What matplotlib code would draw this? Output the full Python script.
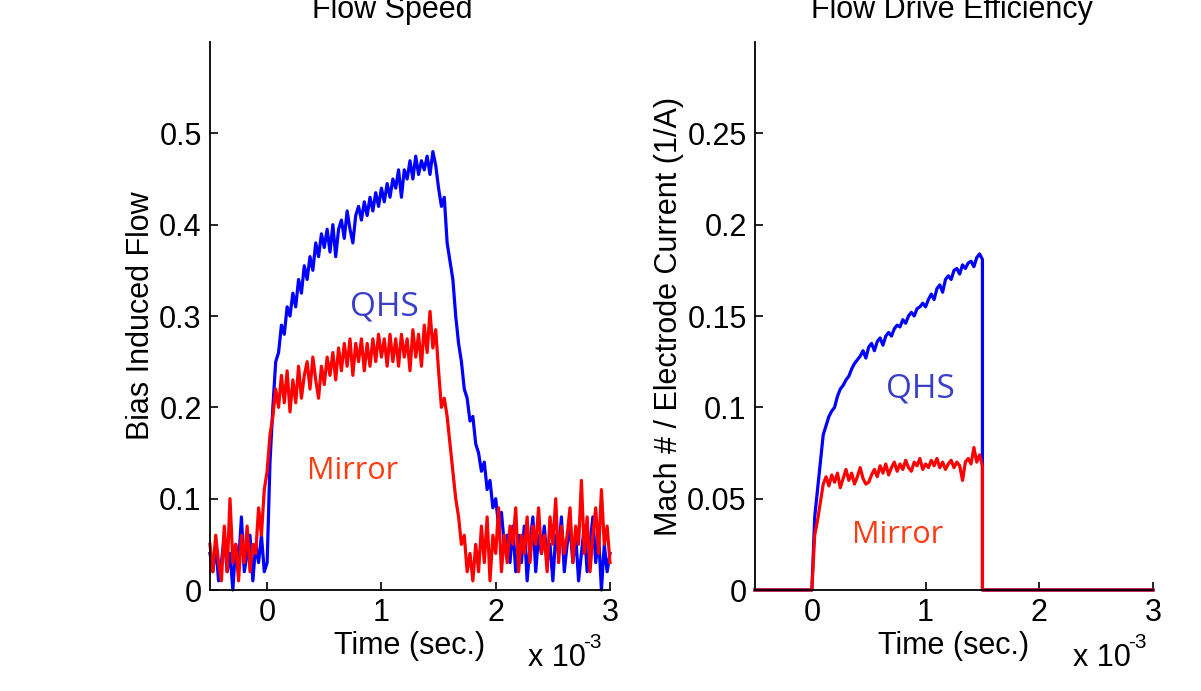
import numpy as np
import matplotlib
matplotlib.use('Agg')
from matplotlib import pyplot as plt
from matplotlib.ticker import FuncFormatter

# time in units of 1e-3 sec
tLeft = np.arange(141) * 0.025 - 0.5
tRight = np.arange(61) * 0.025

# left panel: bias induced flow
qhsFlow = [0.04, 0.02, 0.05, 0.01, 0.03, 0.06, 0.02, 0.04, 0.00, 0.05,
           0.03, 0.08, 0.02, 0.04, 0.06, 0.01, 0.05, 0.03, 0.06, 0.02,
           0.03, 0.14, 0.20, 0.25, 0.26, 0.29, 0.28, 0.31, 0.30, 0.325,
           0.31, 0.34, 0.325, 0.355, 0.34, 0.365, 0.35, 0.38, 0.365, 0.39,
           0.375, 0.395, 0.37, 0.40, 0.365, 0.395, 0.405, 0.385, 0.415, 0.395,
           0.38, 0.41, 0.42, 0.405, 0.425, 0.41, 0.43, 0.415, 0.435, 0.42,
           0.44, 0.425, 0.445, 0.43, 0.45, 0.44, 0.46, 0.43, 0.46, 0.45,
           0.47, 0.45, 0.475, 0.455, 0.47, 0.46, 0.475, 0.455, 0.48, 0.465,
           0.44, 0.42, 0.43, 0.38, 0.36, 0.34, 0.30, 0.27, 0.25, 0.22,
           0.21, 0.185, 0.19, 0.16, 0.15, 0.13, 0.14, 0.11, 0.12, 0.09,
           0.10, 0.07, 0.085, 0.05, 0.06, 0.03, 0.07, 0.02, 0.06, 0.03,
           0.07, 0.01, 0.05, 0.08, 0.02, 0.06, 0.04, 0.07, 0.03, 0.05,
           0.01, 0.06, 0.04, 0.08, 0.02, 0.05, 0.07, 0.03, 0.06, 0.01,
           0.04, 0.07, 0.02, 0.05, 0.08, 0.03, 0.06, 0.00, 0.05, 0.02,
           0.04]
mirrorFlow = [0.05, 0.02, 0.06, 0.03, 0.01, 0.07, 0.02, 0.10, 0.03, 0.05,
              0.01, 0.06, 0.03, 0.07, 0.02, 0.05, 0.04, 0.09, 0.06, 0.11,
              0.13, 0.17, 0.19, 0.22, 0.20, 0.235, 0.205, 0.24, 0.195, 0.23,
              0.205, 0.245, 0.21, 0.235, 0.25, 0.22, 0.255, 0.23, 0.21, 0.245,
              0.225, 0.255, 0.235, 0.26, 0.23, 0.265, 0.24, 0.27, 0.245, 0.275,
              0.235, 0.27, 0.25, 0.275, 0.24, 0.27, 0.245, 0.275, 0.25, 0.28,
              0.255, 0.275, 0.245, 0.28, 0.25, 0.275, 0.245, 0.28, 0.255, 0.275,
              0.24, 0.285, 0.255, 0.28, 0.245, 0.29, 0.26, 0.305, 0.265, 0.285,
              0.24, 0.20, 0.21, 0.19, 0.16, 0.13, 0.10, 0.08, 0.05, 0.06,
              0.02, 0.04, 0.01, 0.05, 0.02, 0.07, 0.03, 0.08, 0.01, 0.06,
              0.04, 0.09, 0.02, 0.06, 0.03, 0.07, 0.05, 0.09, 0.02, 0.06,
              0.04, 0.08, 0.03, 0.07, 0.05, 0.09, 0.04, 0.06, 0.02, 0.08,
              0.05, 0.10, 0.03, 0.07, 0.04, 0.06, 0.09, 0.03, 0.07, 0.05,
              0.12, 0.04, 0.08, 0.02, 0.06, 0.09, 0.04, 0.11, 0.05, 0.07,
              0.03]

# right panel: mach # per electrode current, nonzero only while bias is on
qhsEff = [0.0, 0.04, 0.055, 0.07, 0.085, 0.09, 0.095, 0.098, 0.10, 0.106,
          0.11, 0.112, 0.115, 0.117, 0.121, 0.124, 0.126, 0.128, 0.131, 0.127,
          0.133, 0.135, 0.131, 0.136, 0.138, 0.134, 0.139, 0.141, 0.139, 0.143,
          0.145, 0.144, 0.148, 0.146, 0.15, 0.152, 0.15, 0.154, 0.155, 0.157,
          0.155, 0.159, 0.162, 0.159, 0.165, 0.167, 0.163, 0.17, 0.172, 0.17,
          0.175, 0.176, 0.173, 0.178, 0.176, 0.179, 0.18, 0.177, 0.182, 0.184,
          0.181]
mirrorEff = [0.0, 0.03, 0.038, 0.048, 0.058, 0.062, 0.057, 0.063, 0.059, 0.064,
             0.056, 0.061, 0.066, 0.06, 0.064, 0.058, 0.062, 0.067, 0.061, 0.058,
             0.059, 0.063, 0.066, 0.062, 0.068, 0.064, 0.069, 0.063, 0.067, 0.07,
             0.065, 0.069, 0.066, 0.071, 0.067, 0.065, 0.07, 0.068, 0.072, 0.066,
             0.069, 0.067, 0.071, 0.068, 0.072, 0.067, 0.07, 0.066, 0.069, 0.071,
             0.067, 0.07, 0.068, 0.06, 0.07, 0.072, 0.069, 0.078, 0.07, 0.074,
             0.068]

assert len(qhsFlow) == len(tLeft) and len(mirrorFlow) == len(tLeft)
assert len(qhsEff) == len(tRight) and len(mirrorEff) == len(tRight)

# pad with the zero stretches before and after the bias pulse
tEff = np.concatenate([[-0.5], tRight, [1.5, 3.0]])
qhsEffFull = np.concatenate([[0.0], qhsEff, [0.0, 0.0]])
mirrorEffFull = np.concatenate([[0.0], mirrorEff, [0.0, 0.0]])

fs = 22
plt.rcParams['font.family'] = ['Liberation Sans', 'DejaVu Sans']
plt.rcParams['font.size'] = fs

fig = plt.figure(figsize=(12.01, 6.91), dpi=100)
ax1 = fig.add_axes([210/1201, 101/691, 400/1201, 548/691])
ax2 = fig.add_axes([755/1201, 101/691, 398/1201, 548/691])

def g(v, pos):
    return '%g' % round(v, 4)

for ax in (ax1, ax2):
    ax.spines['top'].set_visible(False)
    ax.spines['right'].set_visible(False)
    ax.spines['left'].set_linewidth(1.3)
    ax.spines['bottom'].set_linewidth(1.3)
    ax.tick_params(direction='in', length=6, width=1.2, labelsize=fs, pad=6)
    ax.set_xlim(-0.5, 3.0)
    ax.set_xticks([0, 1, 2, 3])
    ax.yaxis.set_major_formatter(FuncFormatter(g))
    ax.set_xlabel('Time (sec.)', fontsize=fs, labelpad=2)

ax1.plot(tLeft, qhsFlow, color='#0000ff', lw=2.3, clip_on=False)
ax1.plot(tLeft, mirrorFlow, color='#ff0000', lw=2.3, clip_on=False)
ax1.set_ylim(0, 0.6)
ax1.set_yticks([0, 0.1, 0.2, 0.3, 0.4, 0.5])
ax1.set_ylabel('Bias Induced Flow', fontsize=fs, labelpad=2)
ax1.text(1.03, 0.31, 'QHS', color='#3a3fc8', fontsize=24, family='Open Sans',
         ha='center', va='center')
ax1.text(0.75, 0.13, 'Mirror', color='#ff3b12', fontsize=22, family='Open Sans',
         ha='center', va='center')

ax2.plot(tEff, qhsEffFull, color='#0000ff', lw=2.3, clip_on=False)
ax2.plot(tEff, mirrorEffFull, color='#ff0000', lw=2.3, clip_on=False)
ax2.set_ylim(0, 0.3)
ax2.set_yticks([0, 0.05, 0.1, 0.15, 0.2, 0.25])
ax2.set_ylabel('Mach # / Electrode Current (1/A)', fontsize=fs, labelpad=2)
ax2.text(0.95, 0.11, 'QHS', color='#3a3fc8', fontsize=24, family='Open Sans',
         ha='center', va='center')
ax2.text(0.75, 0.03, 'Mirror', color='#ff3b12', fontsize=22, family='Open Sans',
         ha='center', va='center')

fig.text(392/1201, 1 - 18/691, 'Flow Speed', ha='center', va='baseline', fontsize=fs)
fig.text(952/1201, 1 - 18/691, 'Flow Drive Efficiency', ha='center', va='baseline', fontsize=fs)
for x0 in (557, 1102):
    fig.text(x0/1201, 1 - 666/691, 'x 10', ha='center', va='baseline', fontsize=fs)
    fig.text((x0 + 35)/1201, 1 - 648/691, '-3', ha='center', va='baseline', fontsize=15)

fig.savefig('out.png', dpi=100, facecolor='white')
